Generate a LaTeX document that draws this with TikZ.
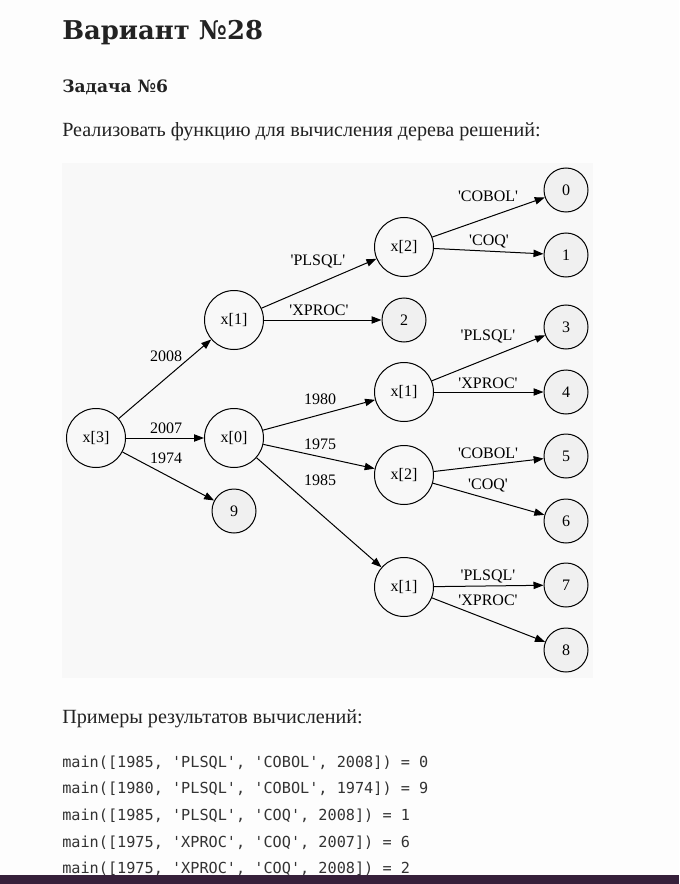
\documentclass[tikz,border=0pt]{standalone}
\usepackage{fontspec}
\setmainfont{Liberation Serif}
\setmonofont{DejaVu Sans Mono}
\newfontfamily\headfont{DejaVu Serif}
\usepackage{xcolor}
\usetikzlibrary{arrows.meta}

\definecolor{pagebg}{HTML}{FDFDFD}
\definecolor{graphbg}{HTML}{F8F8F8}
\definecolor{leafgray}{HTML}{F0F0F0}
\definecolor{inktext}{HTML}{222222}
\definecolor{footbar}{HTML}{36203A}

\newcommand{\sq}[1]{\textquotesingle#1\textquotesingle}

\tikzset{
	inner/.style={circle, draw, line width=0.75pt, minimum size=44.25pt,
		inner sep=0pt, font=\fontsize{12}{12}\selectfont},
	leaf/.style={inner, fill=leafgray, minimum size=33pt},
	edge/.style={-{Triangle[length=7.5pt,width=5.5pt]}, line width=0.75pt},
	elabel/.style={inner sep=0pt, font=\fontsize{12}{12}\selectfont},
	prose/.style={anchor=base west, inner sep=0pt, text=inktext},
	codeline/.style={prose, text=black!80, font=\ttfamily\fontsize{11.4}{12}\selectfont},
}

\begin{document}
\begin{tikzpicture}[x=0.75pt, y=-0.75pt]
	\useasboundingbox (0,0) rectangle (679,884);
	\fill[pagebg] (0,0) rectangle (679,884);

	% page text above the tree
	\node[prose, font=\headfont\bfseries\fontsize{19.4}{20}\selectfont] (title) at (62,40) {Вариант №28};
	\node[prose, font=\headfont\bfseries\fontsize{12.8}{13}\selectfont] (task) at (62,93) {Задача №6};
	\node[prose, font=\fontsize{15.1}{16}\selectfont] (intro) at (62,137) {Реализовать функцию для вычисления дерева решений:};

	% the tree
	\fill[graphbg] (62,163) rectangle (593,678);

	\node[inner] (n3) at (96,438) {x[3]};
	\node[inner] (n1a) at (234,320) {x[1]};
	\node[inner] (n0) at (234,438) {x[0]};
	\node[leaf] (l9) at (234,511) {9};
	\node[inner] (n2a) at (404,247) {x[2]};
	\node[leaf] (l2) at (404,320) {2};
	\node[inner] (n1b) at (404,392) {x[1]};
	\node[inner] (n2b) at (404,475) {x[2]};
	\node[inner] (n1c) at (404,587) {x[1]};
	\foreach \k/\y in {0/190, 1/255, 3/327, 4/392, 5/456, 6/521, 7/585, 8/650}
		\node[leaf] (l\k) at (566,\y) {\k};

	\draw[edge] (n3) -- (n1a);
	\draw[edge] (n3) -- (n0);
	\draw[edge] (n3) -- (l9);
	\draw[edge] (n1a) -- (n2a);
	\draw[edge] (n1a) -- (l2);
	\draw[edge] (n2a) -- (l0);
	\draw[edge] (n2a) -- (l1);
	\draw[edge] (n0) -- (n1b);
	\draw[edge] (n0) -- (n2b);
	\draw[edge] (n0) -- (n1c);
	\draw[edge] (n1b) -- (l3);
	\draw[edge] (n1b) -- (l4);
	\draw[edge] (n2b) -- (l5);
	\draw[edge] (n2b) -- (l6);
	\draw[edge] (n1c) -- (l7);
	\draw[edge] (n1c) -- (l8);

	\node[elabel] (e2008) at (166,356) {2008};
	\node[elabel] (e2007) at (166,428) {2007};
	\node[elabel] (e1974) at (166,458) {1974};
	\node[elabel] (eplsqlA) at (318,261) {\sq{PLSQL}};
	\node[elabel] (expocA) at (319,310) {\sq{XPROC}};
	\node[elabel] (e1980) at (320,399) {1980};
	\node[elabel] (e1975) at (320,444) {1975};
	\node[elabel] (e1985) at (320,480) {1985};
	\node[elabel] (ecobolA) at (488,196) {\sq{COBOL}};
	\node[elabel] (ecoqA) at (489,241) {\sq{COQ}};
	\node[elabel] (eplsqlB) at (488,336) {\sq{PLSQL}};
	\node[elabel] (expocB) at (488,383) {\sq{XPROC}};
	\node[elabel] (ecobolB) at (488,453) {\sq{COBOL}};
	\node[elabel] (ecoqB) at (488,485) {\sq{COQ}};
	\node[elabel] (eplsqlC) at (488,576) {\sq{PLSQL}};
	\node[elabel] (expocC) at (488,600) {\sq{XPROC}};

	% examples below the tree
	\node[prose, font=\fontsize{15.1}{16}\selectfont] (examples) at (62,723) {Примеры результатов вычислений:};
	\node[codeline] (ex1) at (62,767) {main([1985, \sq{PLSQL}, \sq{COBOL}, 2008]) = 0};
	\node[codeline] (ex2) at (62,793) {main([1980, \sq{PLSQL}, \sq{COBOL}, 1974]) = 9};
	\node[codeline] (ex3) at (62,820) {main([1985, \sq{PLSQL}, \sq{COQ}, 2008]) = 1};
	\node[codeline] (ex4) at (62,847) {main([1975, \sq{XPROC}, \sq{COQ}, 2007]) = 6};
	\node[codeline] (ex5) at (62,873) {main([1975, \sq{XPROC}, \sq{COQ}, 2008]) = 2};

	\fill[footbar] (0,875) rectangle (679,884);
\end{tikzpicture}
\end{document}
